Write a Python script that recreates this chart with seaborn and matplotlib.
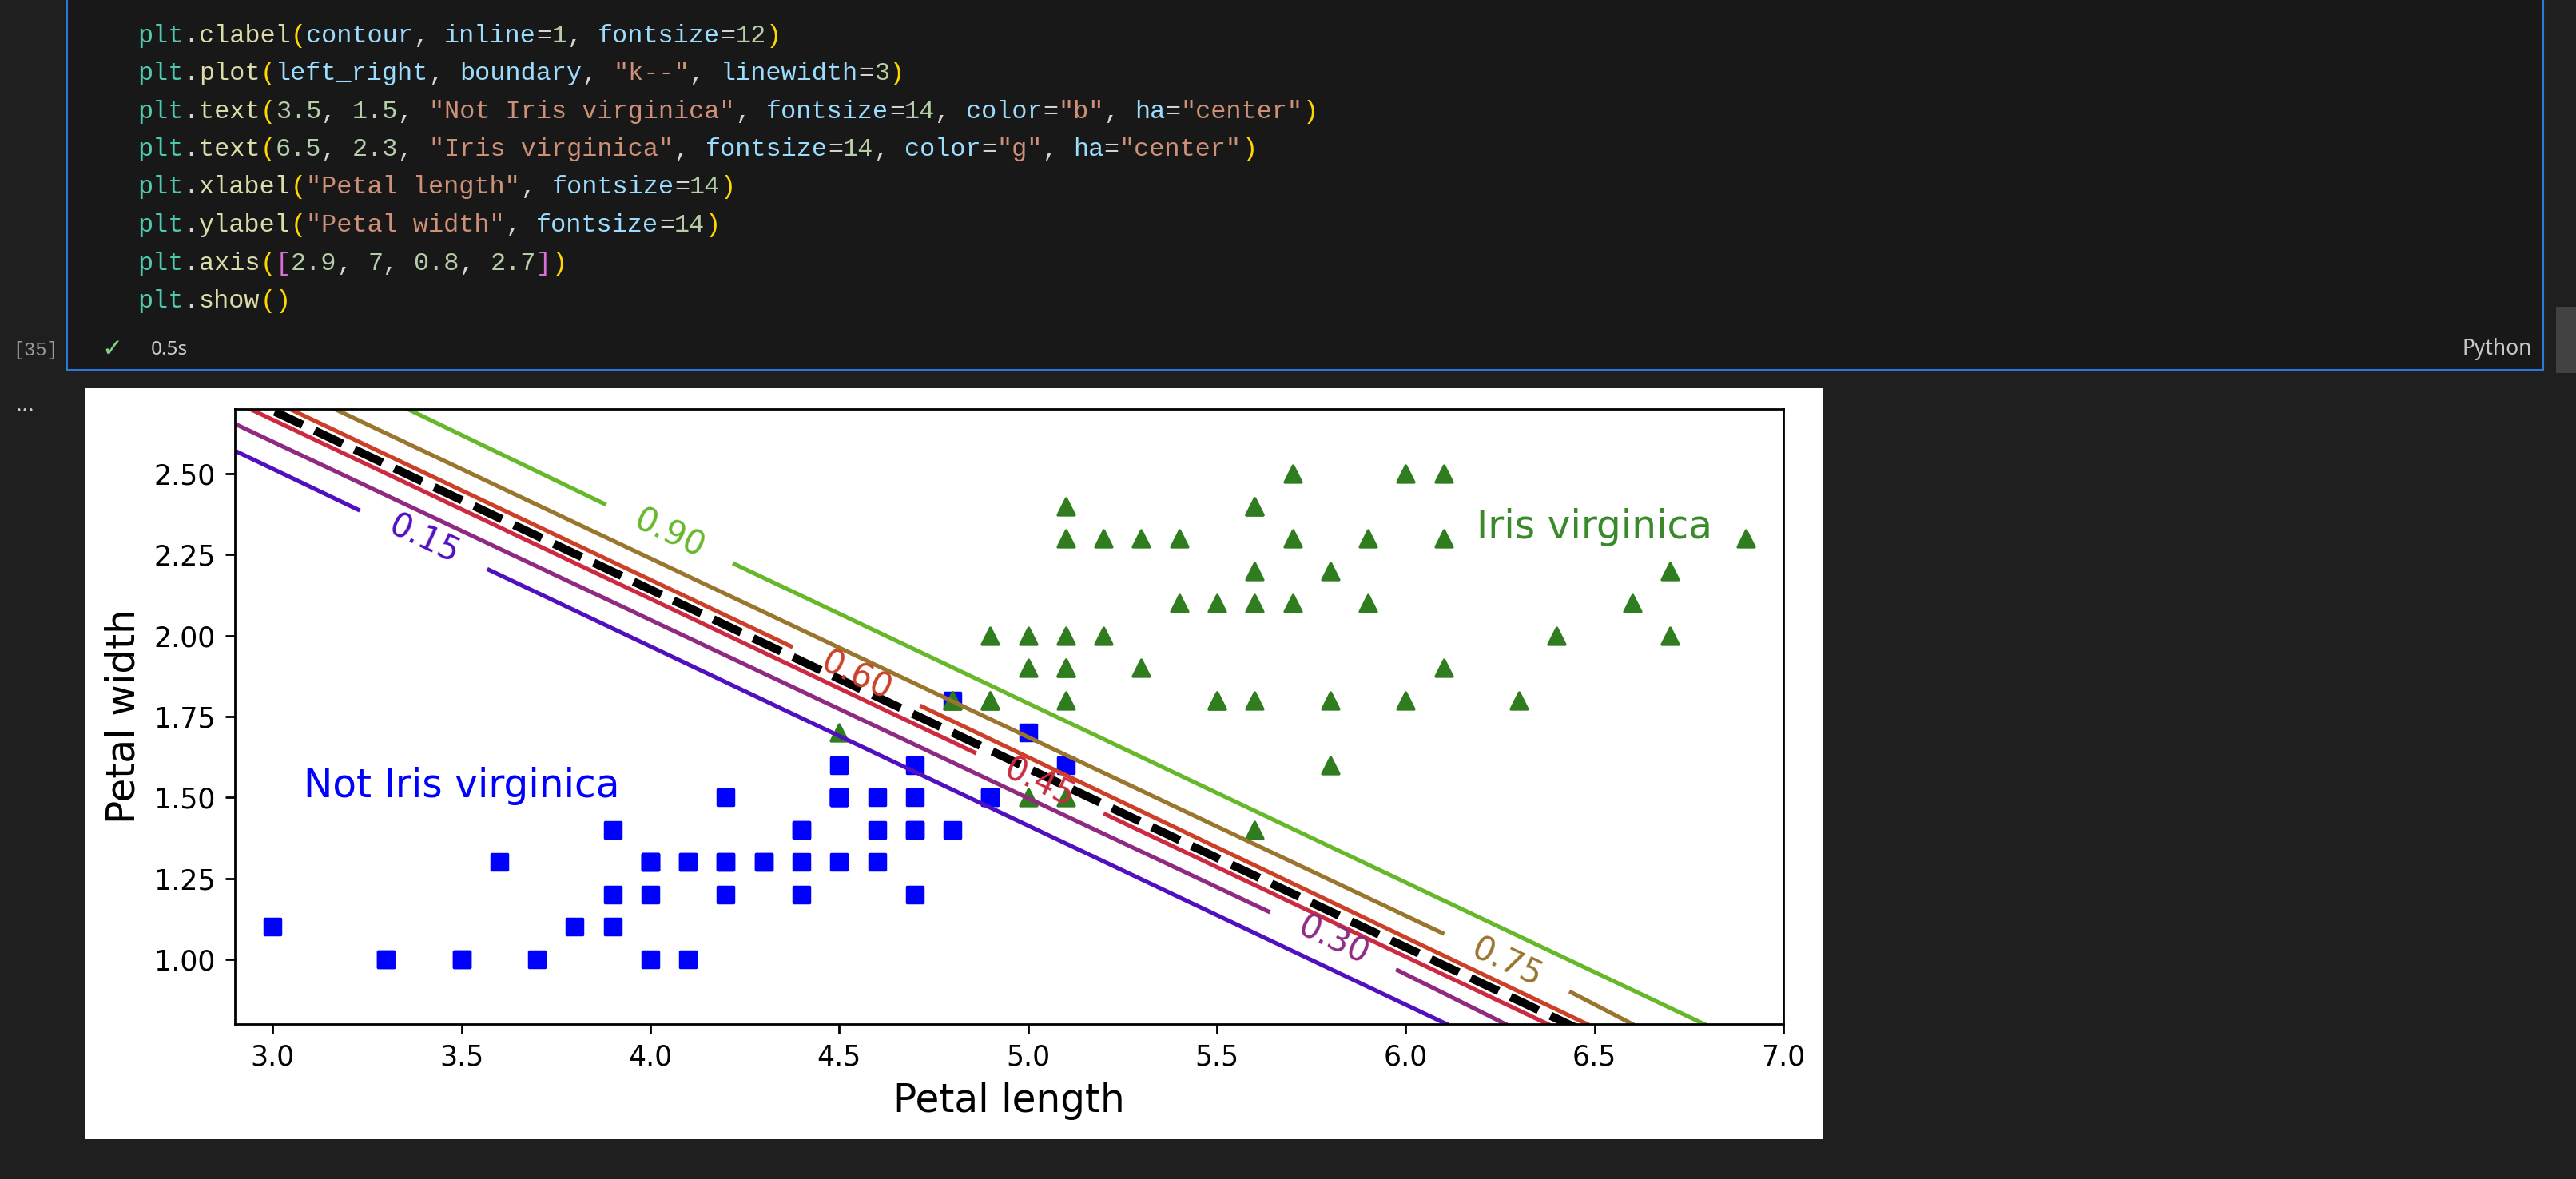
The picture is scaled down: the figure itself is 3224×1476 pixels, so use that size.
import matplotlib
matplotlib.use("Agg")
import matplotlib.pyplot as plt
from matplotlib.patches import Rectangle
import seaborn as sns

W, H, DPI = 3224, 1476, 250

# ---------- chart data ----------
blue_x = [4.7, 4.5, 4.9, 4.0, 4.6, 4.5, 4.7, 3.3, 4.6, 3.9, 3.5, 4.2, 4.0, 4.7, 3.6, 4.4, 4.5,
          4.1, 4.5, 3.9, 4.8, 4.0, 4.9, 4.7, 4.3, 4.4, 4.8, 5.0, 4.5, 3.5, 3.8, 3.7, 3.9, 5.1,
          4.5, 4.5, 4.7, 4.4, 4.1, 4.0, 4.4, 4.6, 4.0, 3.3, 4.2, 4.2, 4.2, 4.3, 3.0, 4.1]
blue_y = [1.4, 1.5, 1.5, 1.3, 1.5, 1.3, 1.6, 1.0, 1.3, 1.4, 1.0, 1.5, 1.0, 1.4, 1.3, 1.4, 1.5,
          1.0, 1.5, 1.1, 1.8, 1.3, 1.5, 1.2, 1.3, 1.4, 1.4, 1.7, 1.5, 1.0, 1.1, 1.0, 1.2, 1.6,
          1.5, 1.6, 1.5, 1.3, 1.3, 1.3, 1.2, 1.4, 1.2, 1.0, 1.3, 1.2, 1.3, 1.3, 1.1, 1.3]
green_x = [6.0, 5.1, 5.9, 5.6, 5.8, 6.6, 4.5, 6.3, 5.8, 6.1, 5.1, 5.3, 5.5, 5.0, 5.1, 5.3, 5.5,
           6.7, 6.9, 5.0, 5.7, 4.9, 6.7, 4.9, 5.7, 6.0, 4.8, 4.9, 5.6, 5.8, 6.1, 6.4, 5.6, 5.1,
           5.6, 6.1, 5.6, 5.5, 4.8, 5.4, 5.6, 5.1, 5.1, 5.9, 5.7, 5.2, 5.0, 5.2, 5.4, 5.1]
green_y = [2.5, 1.9, 2.1, 1.8, 2.2, 2.1, 1.7, 1.8, 1.8, 2.5, 2.0, 1.9, 2.1, 2.0, 2.4, 2.3, 1.8,
           2.2, 2.3, 1.5, 2.3, 2.0, 2.0, 1.8, 2.1, 1.8, 1.8, 1.8, 2.1, 1.6, 1.9, 2.0, 2.2, 1.5,
           1.4, 2.3, 2.4, 1.8, 1.8, 2.1, 2.4, 2.3, 1.9, 2.3, 2.5, 2.3, 1.9, 2.0, 2.3, 1.8]

level_names = ["0.15", "0.30", "0.45", "0.60", "0.75", "0.90"]
level_colors = ["#5010c0", "#8f2a82", "#cc2a40", "#cc4028", "#99752e", "#66b82a"]
# two pieces of each contour: (x0, x1), (y0, y1)
seg_015 = [((2.900, 3.226), (2.571, 2.389)), ((3.573, 6.108), (2.203, 0.800))]
seg_030 = [((2.900, 5.636), (2.654, 1.148)), ((5.979, 6.264), (0.966, 0.800))]
seg_045 = [((2.940, 4.858), (2.700, 1.639)), ((5.205, 6.376), (1.448, 0.800))]
seg_060 = [((3.045, 4.372), (2.700, 1.967)), ((4.719, 6.480), (1.781, 0.800))]
seg_075 = [((3.164, 6.097), (2.700, 1.081)), ((6.438, 6.600), (0.898, 0.800))]
seg_090 = [((3.357, 3.878), (2.700, 2.407)), ((4.223, 6.790), (2.221, 0.800))]
level_segments = [seg_015, seg_030, seg_045, seg_060, seg_075, seg_090]
label_x = [3.400, 5.807, 5.030, 4.545, 6.267, 4.050]
label_y = [2.296, 1.057, 1.544, 1.874, 0.990, 2.314]
label_order = [0, 2, 3, 1, 4, 5]
boundary_x = [2.9, 7.0]
boundary_y = [2.75, 0.485]
x_ticks = [3.0, 3.5, 4.0, 4.5, 5.0, 5.5, 6.0, 6.5, 7.0]
x_ticklabels = ["3.0", "3.5", "4.0", "4.5", "5.0", "5.5", "6.0", "6.5", "7.0"]
y_ticks = [1.0, 1.25, 1.5, 1.75, 2.0, 2.25, 2.5]
y_ticklabels = ["1.00", "1.25", "1.50", "1.75", "2.00", "2.25", "2.50"]

# ---------- editor text ----------
P, D, F, B, V, N, S, M = "#4ec9b0", "#d4d4d4", "#dcdcaa", "#ffd700", "#9cdcfe", "#b5cea8", "#ce9178", "#da70d6"
code_lines = [
    [("plt", P), (".", D), ("clabel", F), ("(", B), ("contour", V), (", ", D), ("inline", V), ("=", D), ("1", N),
     (", ", D), ("fontsize", V), ("=", D), ("12", N), (")", B)],
    [("plt", P), (".", D), ("plot", F), ("(", B), ("left_right", V), (", ", D), ("boundary", V), (", ", D),
     ('"k--"', S), (", ", D), ("linewidth", V), ("=", D), ("3", N), (")", B)],
    [("plt", P), (".", D), ("text", F), ("(", B), ("3.5", N), (", ", D), ("1.5", N), (", ", D),
     ('"Not Iris virginica"', S), (", ", D), ("fontsize", V), ("=", D), ("14", N), (", ", D), ("color", V), ("=", D),
     ('"b"', S), (", ", D), ("ha", V), ("=", D), ('"center"', S), (")", B)],
    [("plt", P), (".", D), ("text", F), ("(", B), ("6.5", N), (", ", D), ("2.3", N), (", ", D),
     ('"Iris virginica"', S), (", ", D), ("fontsize", V), ("=", D), ("14", N), (", ", D), ("color", V), ("=", D),
     ('"g"', S), (", ", D), ("ha", V), ("=", D), ('"center"', S), (")", B)],
    [("plt", P), (".", D), ("xlabel", F), ("(", B), ('"Petal length"', S), (", ", D), ("fontsize", V), ("=", D),
     ("14", N), (")", B)],
    [("plt", P), (".", D), ("ylabel", F), ("(", B), ('"Petal width"', S), (", ", D), ("fontsize", V), ("=", D),
     ("14", N), (")", B)],
    [("plt", P), (".", D), ("axis", F), ("(", B), ("[", M), ("2.9", N), (", ", D), ("7", N), (", ", D), ("0.8", N),
     (", ", D), ("2.7", N), ("]", M), (")", B)],
    [("plt", P), (".", D), ("show", F), ("(", B), (")", B)],
]
code_y = [45, 92, 140, 187, 234, 282, 330, 377]

fig = plt.figure(figsize=((W + 0.01) / DPI, (H + 0.01) / DPI), dpi=DPI, facecolor="#1f1f1f")


def rect(x0, y0, x1, y1, fc, ec="none", lw=0):
    fig.add_artist(Rectangle((x0 / W, 1 - y1 / H), (x1 - x0) / W, (y1 - y0) / H, transform=fig.transFigure,
                             facecolor=fc, edgecolor=ec, linewidth=lw, zorder=-5))


def ftext(x, y, s, **kw):
    fig.text(x / W, 1 - y / H, s, va=kw.pop("va", "center"), **kw)


# editor chrome
rect(84, -10, 3183, 463, "#181818", "#2b79d7", 0.6)
rect(3199, 384, 3224, 467, "#424242")
rect(106, 486, 2281, 1426, "#ffffff")

CHAR = 19.2
for y, tokens in zip(code_y, code_lines):
    col = 0
    for tok, c in tokens:
        ftext(172 + col * CHAR, y, tok, color=c, family="Liberation Mono", fontsize=9.2, ha="left")
        col += len(tok)
ftext(16, 438, "[35]", color="#9a9a9a", family="Liberation Mono", fontsize=6.8, ha="left")
ftext(140, 437, "\u2713", color="#89d185", family="DejaVu Sans", fontsize=9, ha="center")
ftext(189, 438, "0.5s", color="#cccccc", family="Noto Sans", fontsize=7, ha="left")
ftext(3169, 437, "Python", color="#c8c8c8", family="Noto Sans", fontsize=7.6, ha="right")
ftext(31, 508, "...", color="#cccccc", family="Noto Sans", fontsize=8, ha="center")

# chart
ax = fig.add_axes([294 / W, 1 - 1282 / H, 1938 / W, 770 / H], facecolor="white")
sns.scatterplot(x=blue_x, y=blue_y, marker="s", s=36, color="#0000ff", edgecolor="#0000ff", linewidth=1, ax=ax)
sns.scatterplot(x=green_x, y=green_y, marker="^", s=36, color="#2f7d1f", edgecolor="#2f7d1f", linewidth=1, ax=ax)

for segs, col in zip(level_segments, level_colors):
    for xs, ys in segs:
        sns.lineplot(x=list(xs), y=list(ys), color=col, linewidth=1.5, sort=False, estimator=None, errorbar=None, ax=ax)

for i in label_order:
    ax.text(label_x[i], label_y[i], level_names[i], color=level_colors[i], fontsize=12, rotation=-25.3,
            rotation_mode="anchor", ha="center", va="center")

sns.lineplot(x=boundary_x, y=boundary_y, color="k", linewidth=3, linestyle="--", sort=False, estimator=None,
             errorbar=None, ax=ax)

ax.text(3.5, 1.5, "Not Iris virginica", fontsize=14, color="#0000ff", ha="center")
ax.text(6.5, 2.3, "Iris virginica", fontsize=14, color="#3a8a2c", ha="center")
ax.set_xlabel("Petal length", fontsize=14)
ax.set_ylabel("Petal width", fontsize=14)
ax.set_xticks(x_ticks, x_ticklabels)
ax.set_yticks(y_ticks, y_ticklabels)
ax.set_xlim(2.9, 7)
ax.set_ylim(0.8, 2.7)

fig.savefig("out.png", dpi=DPI, facecolor=fig.get_facecolor())
